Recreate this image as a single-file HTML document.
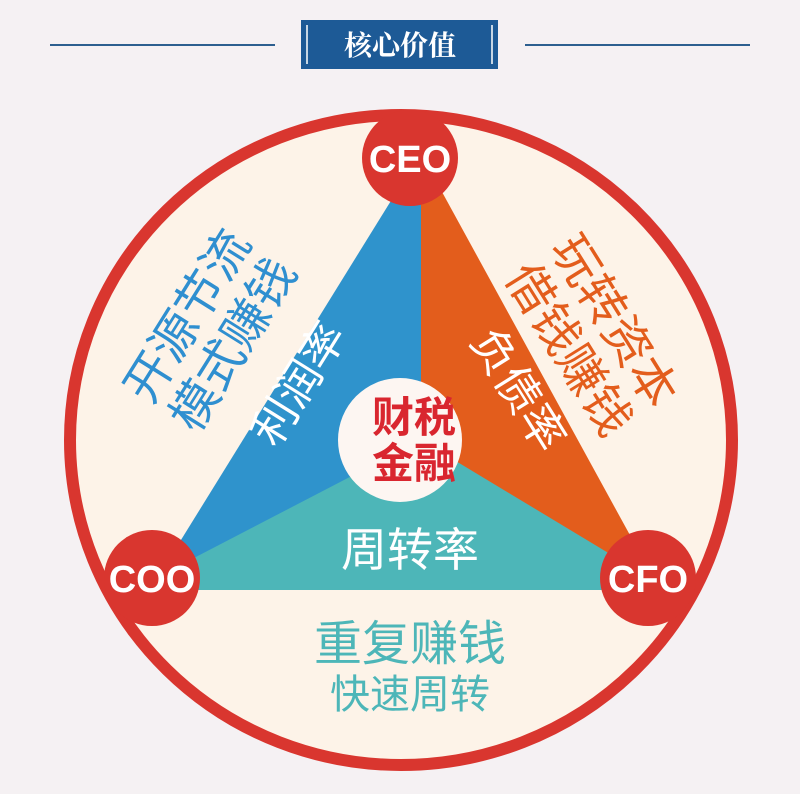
<!DOCTYPE html>
<html><head><meta charset="utf-8"><style>
html,body{margin:0;padding:0;background:#f5f1f3;}
svg{display:block}
text{font-family:"Liberation Sans","Noto Sans CJK SC",sans-serif;}
</style></head><body>
<svg width="800" height="794" viewBox="0 0 800 794" xmlns="http://www.w3.org/2000/svg">
<rect width="800" height="794" fill="#f5f1f3"/>
<line x1="50" y1="45" x2="275" y2="45" stroke="#2d5f8f" stroke-width="2"/>
<line x1="525" y1="45" x2="750" y2="45" stroke="#2d5f8f" stroke-width="2"/>
<rect x="301" y="20" width="197" height="49" fill="#1d5a96"/>
<line x1="307" y1="25" x2="307" y2="64" stroke="#fff" stroke-width="1.5"/>
<line x1="492" y1="25" x2="492" y2="64" stroke="#fff" stroke-width="1.5"/>
<text x="400" y="55" text-anchor="middle" font-size="28" font-weight="bold" fill="#fff" style="font-family:'Noto Serif CJK SC',serif">核心价值</text>

<ellipse cx="401" cy="440" rx="331" ry="325" fill="#fdf3e8" stroke="#d9362f" stroke-width="12"/>

<polygon points="410,170 421,170 421,440 190,570 150,590" fill="#2f93cc"/>
<polygon points="421,170 430,170 660,590 600,570 421,440" fill="#e35d1c"/>
<polygon points="421,440 190,560 160,590 650,590 620,560" fill="#4db6b8"/>
<circle cx="400" cy="440" r="62" fill="#fdf6f2"/>

<circle cx="410" cy="158" r="48" fill="#d9362f"/>
<circle cx="152" cy="578" r="48" fill="#d9362f"/>
<circle cx="648" cy="578" r="48" fill="#d9362f"/>
<text x="410" y="172" text-anchor="middle" font-size="38" font-weight="bold" fill="#fff">CEO</text>
<text x="152" y="592" text-anchor="middle" font-size="38" font-weight="bold" fill="#fff">COO</text>
<text x="648" y="592" text-anchor="middle" font-size="38" font-weight="bold" fill="#fff">CFO</text>

<text x="414" y="432" text-anchor="middle" font-size="42" font-weight="bold" fill="#d9262f">财税</text>
<text x="414" y="478" text-anchor="middle" font-size="42" font-weight="bold" fill="#d9262f">金融</text>

<text transform="translate(312,392) rotate(-58)" text-anchor="middle" font-size="45" fill="#fff">利润率</text>
<text transform="translate(505,398) rotate(58)" text-anchor="middle" font-size="45" fill="#fff">负债率</text>
<text x="410" y="566" text-anchor="middle" font-size="46" fill="#fff">周转率</text>

<g transform="translate(210,330) rotate(-58)" fill="#2f8fd0" font-size="48" text-anchor="middle">
<text x="0" y="-10">开源节流</text>
<text x="0" y="44">模式赚钱</text>
</g>
<g transform="translate(592,335) rotate(58)" fill="#e35d1c" font-size="48" text-anchor="middle">
<text x="0" y="-10">玩转资本</text>
<text x="0" y="44">借钱赚钱</text>
</g>

<text x="410" y="660" text-anchor="middle" font-size="48" fill="#4db6b8">重复赚钱</text>
<text x="410" y="708" text-anchor="middle" font-size="40" fill="#4db6b8">快速周转</text>
</svg>
</body></html>
